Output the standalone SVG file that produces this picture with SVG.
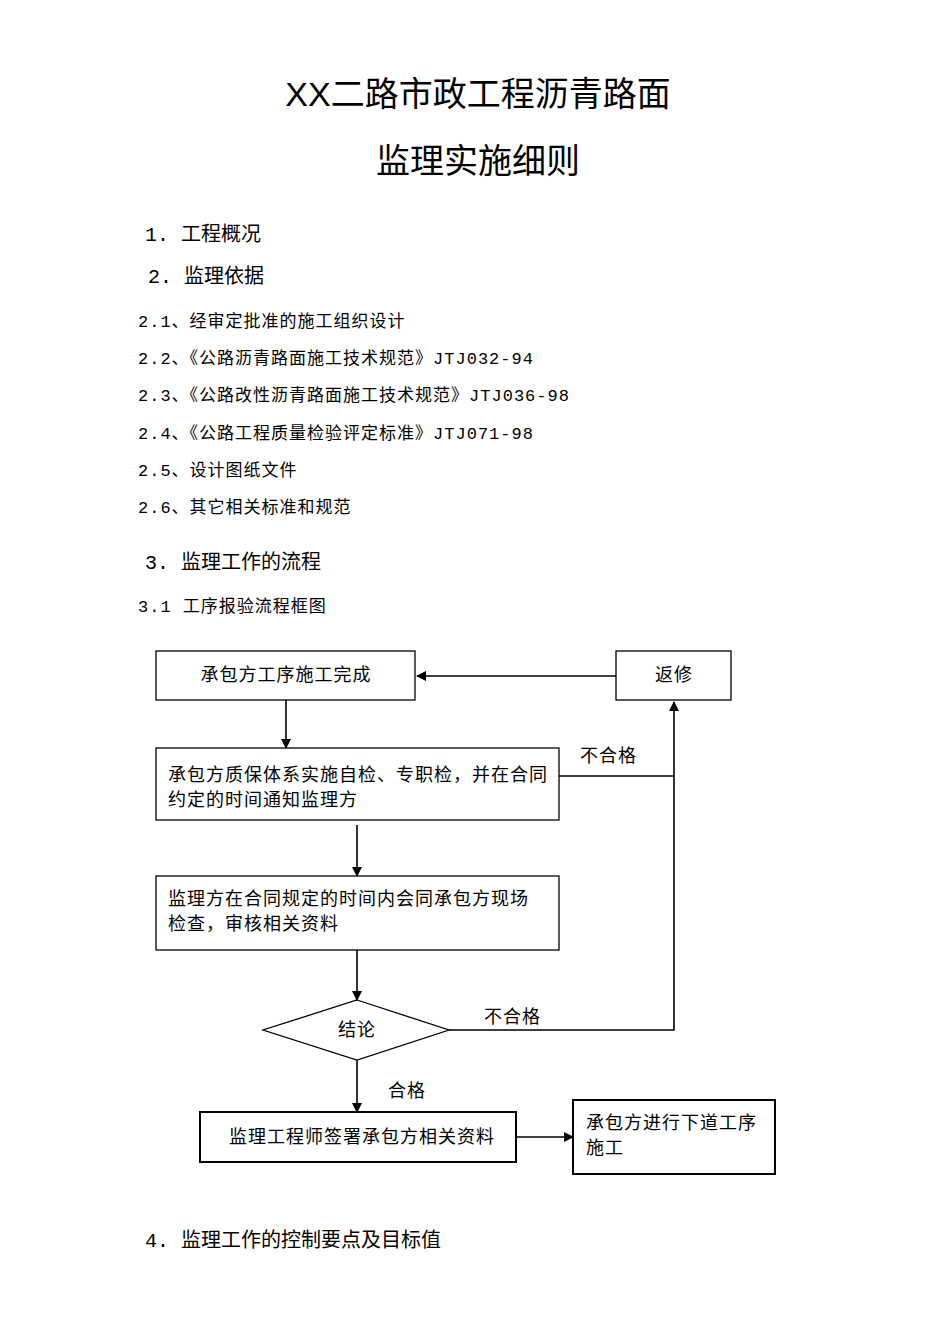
<svg xmlns="http://www.w3.org/2000/svg" width="950" height="1344" viewBox="0 0 950 1344">
<defs>
<style>
.t{font-family:"Liberation Serif","Noto Sans CJK SC",serif;fill:#000}
.m{font-family:"Liberation Mono","Noto Sans CJK SC",monospace;fill:#000}
.h{font-size:34px;text-anchor:middle;font-family:"Liberation Sans","Noto Sans CJK SC",sans-serif}
.s{font-size:20px}
.l{font-size:17px;letter-spacing:1px}
.b{font-size:18px;letter-spacing:1px}
.n{fill:#fff;stroke:#000;stroke-width:1.3}
.k{fill:#fff;stroke:#000;stroke-width:2}
.c{stroke:#000;stroke-width:1.6;fill:none}
</style>
<marker id="a" markerWidth="10" markerHeight="10" refX="9" refY="5" orient="auto" markerUnits="userSpaceOnUse"><path d="M0,0 L10,5 L0,10 z" fill="#000"/></marker>
</defs>
<rect width="950" height="1344" fill="#fff"/>
<text class="t h" x="478" y="106">XX二路市政工程沥青路面</text>
<text class="t h" x="478" y="173">监理实施细则</text>
<text class="m s" x="145" y="241">1.  工程概况</text>
<text class="m s" x="148" y="283">2.  监理依据</text>
<text class="m l" x="138" y="327">2.1、经审定批准的施工组织设计</text>
<text class="m l" x="138" y="364">2.2、《公路沥青路面施工技术规范》JTJ032-94</text>
<text class="m l" x="138" y="401">2.3、《公路改性沥青路面施工技术规范》JTJ036-98</text>
<text class="m l" x="138" y="439">2.4、《公路工程质量检验评定标准》JTJ071-98</text>
<text class="m l" x="138" y="476">2.5、设计图纸文件</text>
<text class="m l" x="138" y="513">2.6、其它相关标准和规范</text>
<text class="m s" x="145" y="569">3.  监理工作的流程</text>
<text class="m l" x="138" y="612">3.1 工序报验流程框图</text>
<g id="n1"><rect class="n" x="156" y="651" width="259" height="49"/><text class="t b" x="286" y="681" text-anchor="middle">承包方工序施工完成</text></g>
<g id="n2"><rect class="n" x="616" y="651" width="115" height="49"/><text class="t b" x="674" y="681" text-anchor="middle">返修</text></g>
<g id="n3"><rect class="n" x="156" y="748" width="403" height="72"/><text class="t b" x="168" y="781">承包方质保体系实施自检、专职检，并在合同</text><text class="t b" x="168" y="806">约定的时间通知监理方</text></g>
<g id="n4"><rect class="n" x="156" y="876" width="403" height="74"/><text class="t b" x="168" y="905">监理方在合同规定的时间内会同承包方现场</text><text class="t b" x="168" y="930">检查，审核相关资料</text></g>
<g id="n5"><polygon class="n" points="357,1000 449,1030 357,1060 263,1030"/><text class="t b" x="357" y="1036" text-anchor="middle">结论</text></g>
<g id="n6"><rect class="k" x="200" y="1112" width="316" height="50"/><text class="t b" x="362" y="1143" text-anchor="middle">监理工程师签署承包方相关资料</text></g>
<g id="n7"><rect class="k" x="573" y="1100" width="202" height="74"/><text class="t b" x="586" y="1129">承包方进行下道工序</text><text class="t b" x="586" y="1154">施工</text></g>
<g id="edges">
<path class="c" d="M616,676 H417" marker-end="url(#a)"/>
<path class="c" d="M286,700 V748" marker-end="url(#a)"/>
<path class="c" d="M559,776 H674"/>
<path class="c" d="M449,1030 H674 V702" marker-end="url(#a)"/>
<path class="c" d="M357,825 V876" marker-end="url(#a)"/>
<path class="c" d="M357,950 V1000" marker-end="url(#a)"/>
<path class="c" d="M357,1060 V1112" marker-end="url(#a)"/>
<path class="c" d="M516,1137 H573" marker-end="url(#a)"/>
<text class="t b" x="580" y="762">不合格</text>
<text class="t b" x="484" y="1023">不合格</text>
<text class="t b" x="388" y="1097">合格</text>
</g>
<text class="m s" x="145" y="1247">4.  监理工作的控制要点及目标值</text>
</svg>
